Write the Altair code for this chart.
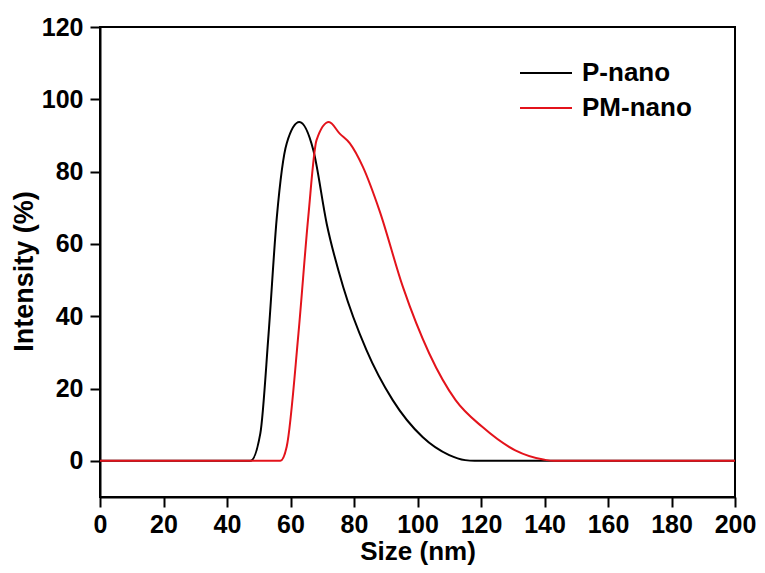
import altair as alt
import pandas as pd

# P-nano (black)
p_size = [0, 47.4, 50.5, 53.1, 55.7, 58.8, 62.8, 67.2, 71.4, 76.6, 83.9, 92.2, 101.6, 110.0, 115.0, 118.0, 200]
p_int = [0, 0, 7.6, 35.2, 67.5, 87.8, 93.7, 85.9, 65.6, 48.1, 30.7, 16.8, 6.6, 1.6, 0.2, 0, 0]

# PM-nano (red)
pm_size = [0, 56.8, 58.8, 62.5, 65.6, 68.2, 72.1, 75.5, 78.7, 82.8, 88.0, 95.4, 103.7, 112.0, 120.4, 130.8, 140.0, 143.0, 200]
pm_int = [0, 0, 3.9, 35.2, 67.5, 88.7, 93.7, 90.5, 87.8, 81.3, 69.3, 48.1, 29.7, 16.8, 9.4, 2.9, 0.3, 0, 0]

series_names = ["P-nano", "PM-nano"]
series_colors = ["#000000", "#e3131b"]
x_ticks = list(range(0, 201, 20))
y_ticks = list(range(0, 121, 20))

df = pd.concat([
    pd.DataFrame({"size": p_size, "intensity": p_int, "series": series_names[0], "order": range(len(p_size))}),
    pd.DataFrame({"size": pm_size, "intensity": pm_int, "series": series_names[1], "order": range(len(pm_size))}),
])

FONT = "Liberation Sans"

color = alt.Color(
    "series:N",
    scale=alt.Scale(domain=series_names, range=series_colors),
    legend=alt.Legend(
        orient="none", legendX=433, legendY=33, title=None,
        symbolType="M-5.2,0H5.2", symbolSize=100, symbolStrokeWidth=2,
        labelFont=FONT, labelFontSize=26, labelFontWeight="bold", labelColor="black",
        labelOffset=23, rowPadding=9, padding=0,
    ),
)

x = alt.X(
    "size:Q",
    scale=alt.Scale(domain=[0, 200], nice=False),
    axis=alt.Axis(values=x_ticks, title="Size (nm)", labelPadding=5,
                  titleBaseline="alphabetic", titleY=62, labelFlush=False),
)
y = alt.Y(
    "intensity:Q",
    scale=alt.Scale(domain=[-10, 120], nice=False, zero=False),
    axis=alt.Axis(values=y_ticks, title="Intensity (%)", labelPadding=7, titlePadding=3,
                  titleY=244, titleFontSize=27),
)

base = alt.Chart(df).mark_line(strokeWidth=2, interpolate="monotone").encode(
    x=x, y=y, color=color, order="order:Q"
)

black = base.transform_filter(alt.datum.series == series_names[0])
red = base.transform_filter(alt.datum.series == series_names[1])

chart = alt.layer(black, red).properties(
    width=635, height=470,
    autosize=alt.AutoSizeParams(type="none"),
    padding={"left": 92, "top": 19, "right": 22, "bottom": 68},
).configure_view(
    stroke="black", strokeWidth=2
).configure_axis(
    domainColor="black", domainWidth=2, tickColor="black", tickWidth=2, tickSize=10,
    labelFont=FONT, labelFontSize=25, labelFontWeight="bold", labelColor="black",
    titleFont=FONT, titleFontSize=26, titleFontWeight="bold", titleColor="black",
    grid=False,
)

chart.save("out.html", embed_options={"renderer": "svg", "actions": False})
